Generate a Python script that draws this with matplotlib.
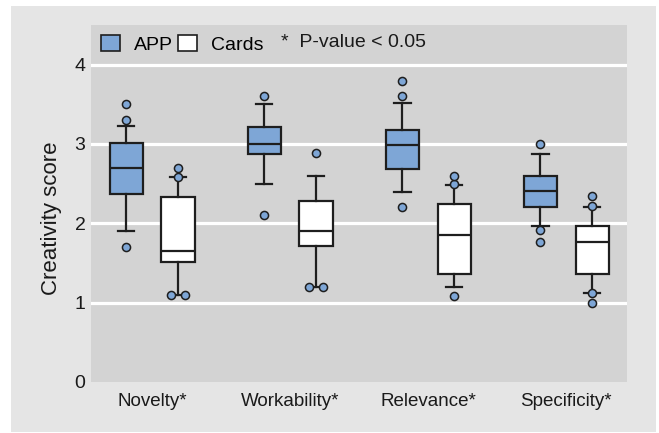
import matplotlib
matplotlib.use('Agg')  # headless

from collections import Counter
import matplotlib.pyplot as plt
from matplotlib.patches import Rectangle, Patch

plt.rcParams['font.family'] = ['Liberation Sans', 'DejaVu Sans']

# ==============================
# DATA
# ==============================

CATEGORIES = ["Novelty*", "Workability*", "Relevance*", "Specificity*"]
GROUPS = ["APP", "Cards"]

APP_WHISLO = [1.90, 2.49, 2.39, 1.97]
APP_Q1 = [2.37, 2.88, 2.68, 2.20]
APP_MED = [2.70, 3.00, 2.99, 2.41]
APP_Q3 = [3.01, 3.21, 3.18, 2.60]
APP_WHISHI = [3.23, 3.50, 3.52, 2.87]
APP_FLIERS = [[1.70, 3.30, 3.50], [2.10, 3.60], [2.20, 3.60, 3.79], [1.77, 1.92, 3.00]]

CARDS_WHISLO = [1.10, 1.20, 1.20, 1.12]
CARDS_Q1 = [1.51, 1.71, 1.36, 1.36]
CARDS_MED = [1.65, 1.90, 1.85, 1.77]
CARDS_Q3 = [2.33, 2.28, 2.25, 1.97]
CARDS_WHISHI = [2.58, 2.60, 2.48, 2.21]
CARDS_FLIERS = [[1.10, 1.10, 2.59, 2.70], [1.20, 1.20, 2.89], [1.09, 2.49, 2.60], [1.00, 1.12, 2.22, 2.34]]

Y_TICKS = [0, 1, 2, 3, 4]

# ==============================
# STYLE
# ==============================

APP_COLOR = "#7ea6d6"
CARDS_COLOR = "#ffffff"
EDGE = "#1e1e1e"
AX_BG = "#d3d3d3"
PANEL_BG = "#e5e5e5"
OFFSET = 0.188
BOX_W = 0.24
DODGE = 0.053
LW = 1.6

fig = plt.figure(figsize=(6.59, 4.33), dpi=100)
fig.patch.set_facecolor("white")
fig.patches.append(Rectangle((11 / 659, 1 / 433), 645 / 659, 426 / 433,
                             transform=fig.transFigure, facecolor=PANEL_BG,
                             edgecolor="none", zorder=-10))

ax = fig.add_axes([91 / 659, 1 - 382 / 433, 536 / 659, 357 / 433])
ax.set_facecolor(AX_BG)
for s in ax.spines.values():
    s.set_visible(False)

for y in Y_TICKS[1:]:
    ax.axhline(y, color="white", lw=2.3, zorder=1)


def draw_group(whislo, q1, med, q3, whishi, fliers, shift, color):
    stats = []
    for i in range(len(CATEGORIES)):
        stats.append({"whislo": whislo[i], "q1": q1[i], "med": med[i],
                      "q3": q3[i], "whishi": whishi[i], "fliers": []})
    pos = [i + shift for i in range(len(CATEGORIES))]
    ax.bxp(stats, positions=pos, widths=BOX_W, patch_artist=True,
           showfliers=False, manage_ticks=False,
           boxprops=dict(facecolor=color, edgecolor=EDGE, linewidth=LW),
           medianprops=dict(color=EDGE, linewidth=LW),
           whiskerprops=dict(color=EDGE, linewidth=LW),
           capprops=dict(color=EDGE, linewidth=LW))
    # outliers, repeated values spread sideways
    for p, vals in zip(pos, fliers):
        counts = Counter(vals)
        for v, n in counts.items():
            if n == 1:
                xs = [p]
            else:
                xs = [p - DODGE + 2 * DODGE * k / (n - 1) for k in range(n)]
            ax.scatter(xs, [v] * n, s=34, facecolor=APP_COLOR, edgecolor=EDGE,
                       linewidth=1.1, zorder=5)


draw_group(APP_WHISLO, APP_Q1, APP_MED, APP_Q3, APP_WHISHI, APP_FLIERS,
           -OFFSET, APP_COLOR)
draw_group(CARDS_WHISLO, CARDS_Q1, CARDS_MED, CARDS_Q3, CARDS_WHISHI, CARDS_FLIERS,
           OFFSET, CARDS_COLOR)

ax.set_xlim(-0.442, 3.44)
ax.set_ylim(0, 4.5)
ax.set_xticks(range(len(CATEGORIES)))
ax.set_xticklabels(CATEGORIES, fontsize=13.5, color="#1a1a1a")
ax.set_yticks(Y_TICKS)
ax.tick_params(axis="y", length=0, pad=4, labelsize=14, labelcolor="#1a1a1a")
ax.tick_params(axis="x", length=0, pad=8)
ax.set_ylabel("Creativity score", fontsize=16, color="#1a1a1a")
ax.yaxis.set_label_coords(-0.054, 0.46)

handles = [Patch(facecolor=APP_COLOR, edgecolor=EDGE, linewidth=1.2),
           Patch(facecolor=CARDS_COLOR, edgecolor=EDGE, linewidth=1.2)]
ax.legend(handles, GROUPS, ncol=2, loc="upper left", bbox_to_anchor=(0, 1),
          frameon=False, fontsize=14, handlelength=1.0, handleheight=0.95,
          handletextpad=0.7, columnspacing=0.25, borderaxespad=0,
          borderpad=0.5)
ax.text(0.354, 0.952, "*  P-value < 0.05", transform=ax.transAxes,
        fontsize=14, va="center", ha="left", color="#1a1a1a")

fig.savefig("out.png", dpi=100, facecolor=fig.get_facecolor())
